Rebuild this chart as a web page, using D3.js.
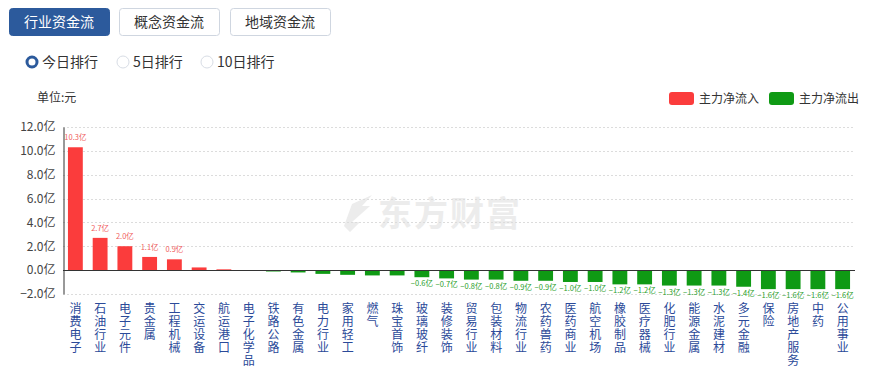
<!DOCTYPE html>
<html><head><meta charset="utf-8">
<script src="https://cdn.jsdelivr.net/npm/d3@7/dist/d3.min.js"></script>
<style>html,body{margin:0;padding:0;background:#fff;}svg{display:block;font-family:"Noto Sans CJK SC","Microsoft YaHei",sans-serif;}</style>
</head><body>
<svg id="c" width="874" height="367"></svg>
<script>
const categories = ["消费电子","石油行业","电子元件","贵金属","工程机械","交运设备","航运港口","电子化学品","铁路公路","有色金属","电力行业","家用轻工","燃气","珠宝首饰","玻璃玻纤","装修装饰","贸易行业","包装材料","物流行业","农药兽药","医药商业","航空机场","橡胶制品","医疗器械","化肥行业","能源金属","水泥建材","多元金融","保险","房地产服务","中药","公用事业"];
const values = [10.3,2.7,2.0,1.1,0.9,0.22,0.06,-0.02,-0.12,-0.2,-0.32,-0.4,-0.45,-0.45,-0.6,-0.7,-0.8,-0.8,-0.9,-0.9,-1.0,-1.0,-1.2,-1.2,-1.3,-1.3,-1.3,-1.4,-1.6,-1.6,-1.6,-1.6];
const yTicks = [-2,0,2,4,6,8,10,12];
const tabs = ["行业资金流","概念资金流","地域资金流"];
const radios = ["今日排行","5日排行","10日排行"];
const legendItems = ["主力净流入","主力净流出"];

const RED = "#fb3c3c", GREEN = "#0f9a14", BLUE = "#2c5a9c";
const svg = d3.select("#c");

// tabs
const tabX = [9,119,230];
tabs.forEach((t,i)=>{
  svg.append("rect").attr("x",tabX[i]+0.5).attr("y",8.5).attr("width",100).attr("height",27).attr("rx",3)
    .attr("fill", i===0?BLUE:"#fff").attr("stroke", i===0?BLUE:"#cfd6e0");
  svg.append("text").attr("x",tabX[i]+50).attr("y",27).attr("text-anchor","middle")
    .attr("font-size",14).attr("fill", i===0?"#fff":"#333").text(t);
});
// radios
const rX = [32,123,207];
radios.forEach((t,i)=>{
  if(i===0){
    svg.append("circle").attr("cx",rX[i]).attr("cy",62).attr("r",5).attr("fill","#fff").attr("stroke",BLUE).attr("stroke-width",3);
  } else {
    svg.append("circle").attr("cx",rX[i]).attr("cy",62).attr("r",6).attr("fill","#fff").attr("stroke","#d8dde5").attr("stroke-width",1);
  }
  svg.append("text").attr("x",rX[i]+10).attr("y",67).attr("font-size",14).attr("fill","#333").text(t);
});
svg.append("text").attr("x",37).attr("y",102).attr("font-size",12).attr("fill","#333").text("单位:元");

// legend
const lgX = [669,769];
legendItems.forEach((t,i)=>{
  svg.append("rect").attr("x",lgX[i]).attr("y",92).attr("width",25).attr("height",13).attr("rx",3).attr("fill", i===0?RED:GREEN);
  svg.append("text").attr("x",lgX[i]+30).attr("y",103).attr("font-size",12).attr("fill","#333").text(t);
});

// watermark
const wm = svg.append("g");
wm.append("path").attr("d","M344,226 L352,204 L372,195 L362,206 L370,206 L352,222 L360,222 L350,232 Z").attr("fill","#ececec");
wm.append("text").attr("x",378).attr("y",226).attr("font-size",34).attr("font-weight","bold").attr("fill","#ececec").attr("letter-spacing",2).text("东方财富");

const x0 = 63, x1 = 855;
const y = d3.scaleLinear().domain([-2,12]).range([293.9,127]);
const x = d3.scaleBand().domain(categories).range([x0,x1]).paddingInner(0.4).paddingOuter(0.2);

// grid
svg.append("g").selectAll("line").data(yTicks.filter(d=>d!==0)).join("line")
  .attr("x1",x0).attr("x2",x1).attr("y1",d=>Math.round(y(d))+0.5).attr("y2",d=>Math.round(y(d))+0.5)
  .attr("stroke","#dcdcdc").attr("stroke-dasharray","2,2");

// y axis
const yAxis = d3.axisLeft(y).tickValues(yTicks).tickSize(0).tickPadding(8).tickFormat(d=>d3.format(".1f")(d)+"亿");
const ga = svg.append("g").attr("transform",`translate(${x0+0.5},0)`).call(yAxis);
ga.select(".domain").attr("stroke","#333");
ga.selectAll("text").attr("font-size",12).attr("fill","#444").attr("font-family","'Noto Sans CJK SC',sans-serif");

// bars
svg.append("g").selectAll("rect").data(values).join("rect")
  .attr("x",(d,i)=>x(categories[i])).attr("width",x.bandwidth())
  .attr("y",d=>d>=0?y(d):y(0)).attr("height",d=>Math.abs(y(d)-y(0)))
  .attr("fill",d=>d>=0?RED:GREEN);

// zero line
svg.append("line").attr("x1",x0).attr("x2",x1).attr("y1",Math.round(y(0))+0.5).attr("y2",Math.round(y(0))+0.5).attr("stroke","#333");

// value labels
svg.append("g").selectAll("text").data(values.map((v,i)=>({v,i})).filter(d=>Math.abs(d.v)>=0.5)).join("text")
  .attr("x",d=>x(categories[d.i])+x.bandwidth()/2)
  .attr("y",d=>d.v>=0?y(d.v)-7:y(d.v)+9)
  .attr("text-anchor","middle").attr("font-size",7.5).attr("fill",d=>d.v>=0?"#f06060":"#2aa02a")
  .text(d=>d3.format(".1f")(d.v)+"亿");

// category labels (vertical)
svg.append("g").selectAll("text").data(categories).join("text")
  .attr("x",d=>x(d)+x.bandwidth()/2).attr("y",302)
  .attr("writing-mode","vertical-rl").attr("text-anchor","start")
  .attr("letter-spacing",1.2)
  .attr("font-size",12).attr("fill","#2b4a99").text(d=>d);
</script>
</body></html>
